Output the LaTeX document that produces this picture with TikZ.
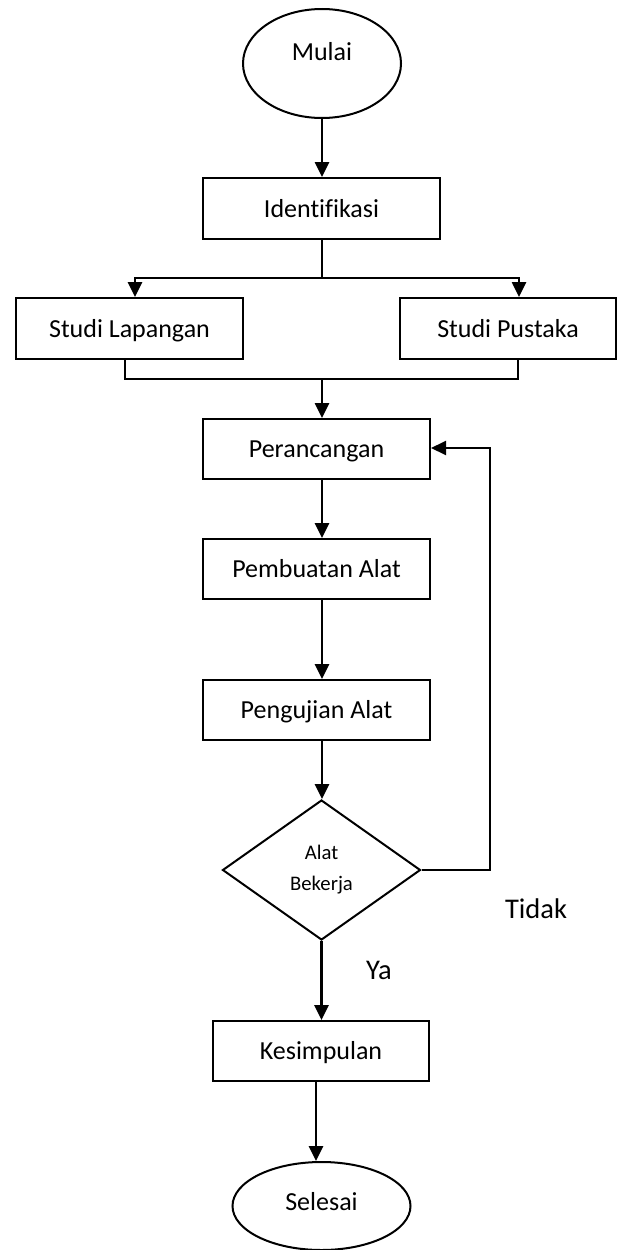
\documentclass[tikz,border=0pt]{standalone}
\usepackage{fontspec}
\setmainfont[Ligatures=NoCommon]{Carlito}
\usetikzlibrary{shapes.geometric,arrows.meta,calc}

\begin{document}
\begin{tikzpicture}[x=1pt,y=-1pt,
  box/.style={draw,line width=2pt,minimum height=60pt,inner sep=0pt,
    font=\fontsize{26}{30}\selectfont,text height=17pt,text depth=0pt},
  term/.style={draw,ellipse,line width=2pt,inner sep=0pt},
  decide/.style={draw,diamond,line width=2pt,inner sep=0pt,
    minimum width=198pt,minimum height=140pt,aspect=1.414,
    align=center,font=\fontsize{20.7}{31}\selectfont},
  lbl/.style={font=\fontsize{26}{30}\selectfont,text height=17pt,text depth=0pt,inner sep=0pt},
  side/.style={font=\fontsize{28.5}{32}\selectfont,inner sep=0pt},
  arr/.style={line width=2.6pt,-{Triangle[length=15pt,width=14pt]}},
  conn/.style={line width=2pt},
  back/.style={line width=2pt,-{Triangle[length=15pt,width=14pt]}}]

\useasboundingbox (0,0) rectangle (619,1250);

% start / end terminators
\node[term,minimum width=158pt,minimum height=109pt] (mulai) at (322,63.5) {};
\node[lbl] (mulaitxt) at (322,51.5) {Mulai};
\node[term,minimum width=178pt,minimum height=88pt] (sel) at (321.5,1206) {};
\node[lbl] (seltxt) at (321.5,1201.5) {Selesai};

% process boxes
\node[box,minimum width=237pt,minimum height=61pt] (ident) at (321.5,208.5) {Identifikasi};
\node[box,minimum width=227pt,minimum height=61pt] (lap) at (129.5,328.5) {Studi Lapangan};
\node[box,minimum width=216pt,minimum height=61pt] (pus) at (508,328.5) {Studi Pustaka};
\node[box,minimum width=227pt] (peran) at (316.5,449) {Perancangan};
\node[box,minimum width=227pt] (pemb) at (316.5,569) {Pembuatan Alat};
\node[box,minimum width=227pt] (peng) at (316.5,710) {Pengujian Alat};
\node[decide] (dia) at (321.5,870) {Alat\\Bekerja};
\node[box,minimum width=216pt] (kes) at (321,1051) {Kesimpulan};

% branch labels
\node[side] (tidak) at (536,909) {Tidak};
\node[side] (ya) at (379,970) {Ya};

% helper points of the connectors
\coordinate (trunk) at (322,0);
\coordinate (splitL) at (135,278);
\coordinate (splitR) at (519,278);
\coordinate (mergeL) at (125,379);
\coordinate (mergeR) at (518,379);
\coordinate (mergeC) at (322,379);
\coordinate (fb) at (490,448);

% connectors
\draw[arr] (mulai.south) -- (mulai.south |- ident.north);
\draw[conn] (ident.south) -- (ident.south |- splitL);
\draw[arr] (ident.south |- splitL) -- (splitL) -- (splitL |- lap.north);
\draw[arr] (ident.south |- splitR) -- (splitR) -- (splitR |- pus.north);
\draw[conn] (mergeL |- lap.south) -- (mergeL) -- (mergeR) -- (mergeR |- pus.south);
\draw[arr] (mergeC) -- (mergeC |- peran.north);
\draw[arr] (trunk |- peran.south) -- (trunk |- pemb.north);
\draw[arr] (trunk |- pemb.south) -- (trunk |- peng.north);
\draw[arr] (trunk |- peng.south) -- (trunk |- dia.north);
\draw[back] (dia.east) -| (fb) -- (peran.east |- fb);
\draw[arr] (dia.south) -- (dia.south |- kes.north);
\draw[arr] ([xshift=-5pt]kes.south) -- ([xshift=-5pt]kes.south |- sel.north);

\end{tikzpicture}
\end{document}
